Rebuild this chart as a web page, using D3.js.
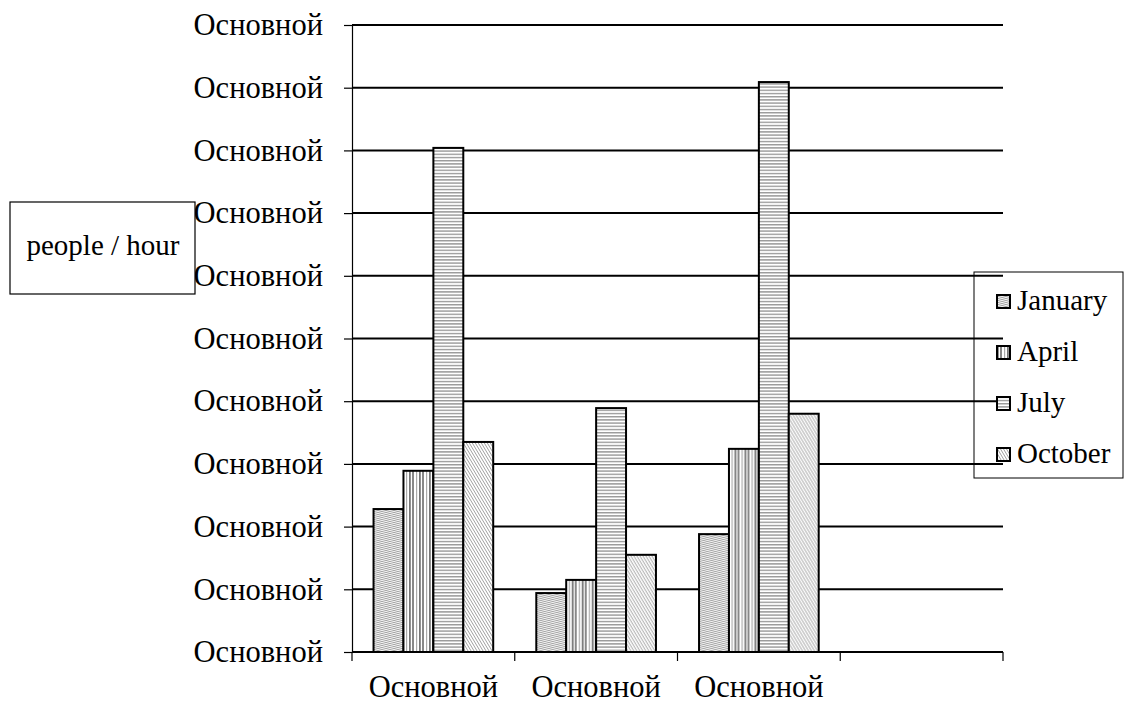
<!DOCTYPE html>
<html><head><meta charset="utf-8">
<script src="https://cdn.jsdelivr.net/npm/d3@7"></script>
<style>body{margin:0;background:#fff}svg{display:block}text{font-family:"Liberation Serif","Times New Roman",serif;fill:#000}</style>
</head><body>
<script>
const categories = ["Основной", "Основной", "Основной", ""];
const seriesNames = ["January", "April", "July", "October"];
const january = [2.28, 0.94, 1.88];
const april   = [2.89, 1.15, 3.24];
const july    = [8.04, 3.89, 9.09];
const october = [3.35, 1.55, 3.80];
const yTicks = [0,1,2,3,4,5,6,7,8,9,10];
const yTickLabels = ["Основной","Основной","Основной","Основной","Основной","Основной","Основной","Основной","Основной","Основной","Основной"];
const yLabel = "people / hour";

const W = 1124, H = 704;
const CYR = 30.5, LAT = 29;
const svg = d3.select("body").append("svg").attr("width", W).attr("height", H);
const defs = svg.append("defs");

function pat(id, w, h, draw){
  const p = defs.append("pattern").attr("id", id).attr("patternUnits","userSpaceOnUse").attr("width", w).attr("height", h);
  p.append("rect").attr("width", w).attr("height", h).attr("fill", "#fff");
  draw(p);
}
pat("pJan", 8, 4, p => {
  p.append("path").attr("d","M-8,-2 L8,2 M0,-2 L16,2 M-8,2 L8,6 M0,2 L16,6 M-8,-6 L8,-2").attr("stroke","#a0a0a0").attr("stroke-width",1.1);
});
pat("pApr", 10, 10, p => {
  p.append("rect").attr("x",0).attr("width",2).attr("height",10).attr("fill","#888");
  p.append("rect").attr("x",4).attr("width",1.2).attr("height",10).attr("fill","#aaa");
  p.append("rect").attr("x",7).attr("width",1.8).attr("height",10).attr("fill","#777");
});
pat("pJul", 10, 3.2, p => {
  p.append("rect").attr("y",0).attr("width",10).attr("height",1.4).attr("fill","#999");
});
pat("pOct", 3, 5, p => {
  p.append("path").attr("d","M-3,-2.5 L3,7.5 M0,-2.5 L6,7.5 M-3,2.5 L0,7.5 M0,-7.5 L6,2.5").attr("stroke","#a0a0a0").attr("stroke-width",1.0);
});
const fills = ["url(#pJan)","url(#pApr)","url(#pJul)","url(#pOct)"];

const x0 = 352, x1 = 1003, yTop = 25, yBot = 652;
const x = d3.scaleBand().domain(d3.range(categories.length)).range([x0, x1]).paddingInner(0).paddingOuter(0);
const y = d3.scaleLinear().domain([0, 10]).range([yBot, yTop]);
const xs = d3.scaleBand().domain(seriesNames).range([0, x.bandwidth()]).paddingOuter(0.72).paddingInner(0);

svg.append("g").selectAll("line").data(yTicks.slice(1)).join("line")
  .attr("x1", x0).attr("x2", x1).attr("y1", d => y(d)).attr("y2", d => y(d))
  .attr("stroke", "#000").attr("stroke-width", 2);

const yAxis = d3.axisLeft(y).tickValues(yTicks).tickFormat((d,i) => yTickLabels[i]).tickSize(8).tickPadding(21);
const gy = svg.append("g").attr("transform", `translate(${x0},0)`).call(yAxis);
gy.select(".domain").attr("stroke","#000").attr("stroke-width",1.2);
gy.selectAll(".tick line").attr("stroke","#000").attr("stroke-width",1.2);
gy.selectAll("text").attr("font-size", CYR).attr("font-family",'"Liberation Serif",serif');

const series = [january, april, july, october];
const groups = svg.append("g").selectAll("g").data(d3.range(january.length)).join("g")
  .attr("transform", i => `translate(${x(i)},0)`);
groups.selectAll("rect").data(i => series.map((s, k) => ({k, v: s[i]}))).join("rect")
  .attr("x", d => xs(seriesNames[d.k])).attr("width", xs.bandwidth())
  .attr("y", d => y(d.v)).attr("height", d => yBot - y(d.v))
  .attr("fill", d => fills[d.k]).attr("stroke", "#000").attr("stroke-width", 2);

const xAxis = d3.axisBottom(x).tickFormat(i => categories[i]).tickSize(0).tickPadding(0);
const gx = svg.append("g").attr("transform", `translate(0,${yBot})`).call(xAxis);
gx.select(".domain").attr("stroke","#000").attr("stroke-width",2).attr("d", `M${x0},0H${x1}`);
gx.selectAll(".tick line").remove();
gx.selectAll("text").attr("font-size", CYR).attr("font-family",'"Liberation Serif",serif')
  .attr("dy", null).attr("y", 45);
const xTickPos = d3.range(categories.length + 1).map(i => i < categories.length ? x(i) : x1);
gx.append("g").selectAll("line").data(xTickPos).join("line")
  .attr("x1", d => d).attr("x2", d => d).attr("y1", 0).attr("y2", 9)
  .attr("stroke", "#000").attr("stroke-width", 1.2);

const lb = svg.append("g");
lb.append("rect").attr("x", 10).attr("y", 202).attr("width", 185).attr("height", 92)
  .attr("fill", "#fff").attr("stroke", "#000").attr("stroke-width", 1.2);
lb.append("text").attr("x", 103).attr("y", 255).attr("text-anchor","middle").attr("font-size", LAT).text(yLabel);

const lg = svg.append("g");
lg.append("rect").attr("x", 974).attr("y", 272).attr("width", 149).attr("height", 206)
  .attr("fill", "none").attr("stroke", "#000").attr("stroke-width", 1);
const ly = d3.scalePoint().domain(seriesNames).range([301, 454]);
const li = lg.selectAll("g").data(seriesNames).join("g").attr("transform", d => `translate(0,${ly(d)})`);
li.append("rect").attr("x", 997).attr("y", -6).attr("width", 13).attr("height", 13)
  .attr("fill", (d,i) => fills[i]).attr("stroke", "#000").attr("stroke-width", 2);
li.append("text").attr("x", 1017).attr("y", 9).attr("font-size", LAT).text(d => d);
</script>
</body></html>
